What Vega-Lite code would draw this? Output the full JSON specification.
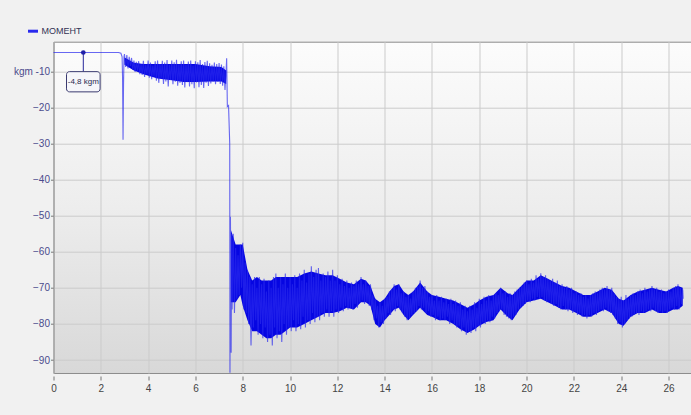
{
  "$schema": "https://vega.github.io/schema/vega-lite/v6.json",
  "width": 637.5,
  "height": 331.3,
  "autosize": {"type": "none"},
  "padding": {"left": 53.5, "top": 41.7, "right": 0, "bottom": 42},
  "background": "#f1f1f1",
  "config": {
    "view": {
      "fill": {"gradient": "linear", "x1": 0, "y1": 0, "x2": 0, "y2": 1, "stops": [{"offset": 0, "color": "#fcfcfc"}, {"offset": 0.5, "color": "#ededed"}, {"offset": 1, "color": "#d8d8d8"}]},
      "stroke": "#8c8c8c",
      "strokeWidth": 1
    },
    "axis": {
      "gridColor": "#cbcbcb",
      "gridOpacity": 1,
      "gridWidth": 1,
      "labelFont": "Liberation Sans, Arial, sans-serif",
      "labelFontSize": 10,
      "labelOverlap": false,
      "tickColor": "#777777",
      "domainColor": "#9a9a9a",
      "title": null
    }
  },
  "datasets": {
    "env": [
      {"seg":"a","t":3.0,"hi":-6.2,"lo":-8.2},{"seg":"a","t":3.4,"hi":-7.6,"lo":-9.8},{"seg":"a","t":3.8,"hi":-8,"lo":-10.8},{"seg":"a","t":4.4,"hi":-8,"lo":-12},
      {"seg":"a","t":5.0,"hi":-8,"lo":-12.5},{"seg":"a","t":5.5,"hi":-8,"lo":-13},{"seg":"a","t":6.0,"hi":-8,"lo":-13},{"seg":"a","t":6.6,"hi":-8.6,"lo":-12.8},
      {"seg":"a","t":7.1,"hi":-8.8,"lo":-12.8},{"seg":"a","t":7.3,"hi":-9.8,"lo":-13.5},
      {"seg":"b","t":7.5,"hi":-54,"lo":-74},{"seg":"b","t":7.7,"hi":-58,"lo":-74},{"seg":"b","t":7.9,"hi":-58,"lo":-72},{"seg":"b","t":8.0,"hi":-58,"lo":-75},
      {"seg":"b","t":8.2,"hi":-65,"lo":-79},{"seg":"b","t":8.4,"hi":-68,"lo":-82},{"seg":"b","t":8.6,"hi":-67,"lo":-82},{"seg":"b","t":8.8,"hi":-68,"lo":-83},
      {"seg":"b","t":9.0,"hi":-68,"lo":-84},{"seg":"b","t":9.2,"hi":-68,"lo":-84},{"seg":"b","t":9.4,"hi":-67,"lo":-83},{"seg":"b","t":9.6,"hi":-67,"lo":-83},
      {"seg":"b","t":9.8,"hi":-67,"lo":-82},{"seg":"b","t":10.0,"hi":-67,"lo":-81},{"seg":"b","t":10.3,"hi":-67,"lo":-81},{"seg":"b","t":10.6,"hi":-66,"lo":-80},
      {"seg":"b","t":10.9,"hi":-65.5,"lo":-79},{"seg":"b","t":11.2,"hi":-66,"lo":-78},{"seg":"b","t":11.5,"hi":-66.5,"lo":-77},{"seg":"b","t":11.8,"hi":-66.5,"lo":-77},
      {"seg":"b","t":12.1,"hi":-67.5,"lo":-76.5},{"seg":"b","t":12.4,"hi":-68.5,"lo":-75.5},{"seg":"b","t":12.7,"hi":-69,"lo":-76},{"seg":"b","t":13.0,"hi":-67.5,"lo":-74},
      {"seg":"b","t":13.2,"hi":-68,"lo":-74},{"seg":"b","t":13.4,"hi":-69.5,"lo":-75},{"seg":"b","t":13.6,"hi":-73,"lo":-80},{"seg":"b","t":13.8,"hi":-74,"lo":-81},
      {"seg":"b","t":14.0,"hi":-73,"lo":-79},{"seg":"b","t":14.2,"hi":-71,"lo":-77.5},{"seg":"b","t":14.4,"hi":-69.5,"lo":-76},{"seg":"b","t":14.6,"hi":-69,"lo":-75.5},
      {"seg":"b","t":14.8,"hi":-71,"lo":-77.5},{"seg":"b","t":15.0,"hi":-72,"lo":-79},{"seg":"b","t":15.2,"hi":-71,"lo":-77.5},{"seg":"b","t":15.5,"hi":-68.5,"lo":-75.5},
      {"seg":"b","t":15.8,"hi":-71,"lo":-77.5},{"seg":"b","t":16.0,"hi":-72,"lo":-78},{"seg":"b","t":16.3,"hi":-72.5,"lo":-79},{"seg":"b","t":16.6,"hi":-73,"lo":-79},
      {"seg":"b","t":16.9,"hi":-73.5,"lo":-80},{"seg":"b","t":17.2,"hi":-74.5,"lo":-81.5},{"seg":"b","t":17.5,"hi":-75.5,"lo":-82.5},{"seg":"b","t":17.8,"hi":-74.5,"lo":-81.5},
      {"seg":"b","t":18.0,"hi":-73.5,"lo":-80.5},{"seg":"b","t":18.3,"hi":-72.5,"lo":-79.5},{"seg":"b","t":18.6,"hi":-72,"lo":-79},{"seg":"b","t":18.9,"hi":-70,"lo":-76},
      {"seg":"b","t":19.2,"hi":-71.5,"lo":-78},{"seg":"b","t":19.4,"hi":-72,"lo":-79},{"seg":"b","t":19.7,"hi":-70,"lo":-76},{"seg":"b","t":20.0,"hi":-68,"lo":-74},
      {"seg":"b","t":20.3,"hi":-68,"lo":-73.5},{"seg":"b","t":20.6,"hi":-66.5,"lo":-73},{"seg":"b","t":20.9,"hi":-67.5,"lo":-74},{"seg":"b","t":21.2,"hi":-68.5,"lo":-75},
      {"seg":"b","t":21.5,"hi":-69.5,"lo":-76},{"seg":"b","t":21.8,"hi":-70,"lo":-76},{"seg":"b","t":22.1,"hi":-71,"lo":-77},{"seg":"b","t":22.4,"hi":-72,"lo":-78},
      {"seg":"b","t":22.7,"hi":-72,"lo":-78},{"seg":"b","t":23.0,"hi":-71,"lo":-77},{"seg":"b","t":23.3,"hi":-70,"lo":-76},{"seg":"b","t":23.6,"hi":-70.5,"lo":-77},
      {"seg":"b","t":23.9,"hi":-73,"lo":-80},{"seg":"b","t":24.1,"hi":-73.5,"lo":-80.5},{"seg":"b","t":24.4,"hi":-72,"lo":-78},{"seg":"b","t":24.7,"hi":-71,"lo":-77},
      {"seg":"b","t":25.0,"hi":-70.5,"lo":-77},{"seg":"b","t":25.3,"hi":-70,"lo":-76},{"seg":"b","t":25.6,"hi":-70.5,"lo":-77},{"seg":"b","t":25.9,"hi":-71,"lo":-77},
      {"seg":"b","t":26.2,"hi":-70,"lo":-76},{"seg":"b","t":26.4,"hi":-69.5,"lo":-76},{"seg":"b","t":26.6,"hi":-70,"lo":-75}
    ],
    "sig": [
      {"t":0,"v":-4.8},{"t":2.75,"v":-4.8},{"t":2.85,"v":-5.0},{"t":2.9,"v":-6},{"t":2.92,"v":-12},{"t":2.94,"v":-29},{"t":2.96,"v":-14},{"t":2.98,"v":-6},
      {"t":3.00,"v":-5.2},{"t":3.05,"v":-8.8},{"t":3.10,"v":-5.5},{"t":3.15,"v":-9.2},{"t":3.20,"v":-6.0},{"t":3.25,"v":-8.5},{"t":3.30,"v":-6.3},{"t":3.35,"v":-9.6},
      {"t":3.40,"v":-7.0},{"t":3.45,"v":-10.2},{"t":3.50,"v":-7.4},{"t":3.55,"v":-9.8},{"t":3.60,"v":-7.2},{"t":3.65,"v":-10.8},{"t":3.70,"v":-8.0},{"t":3.75,"v":-11.0},
      {"t":3.80,"v":-7.1},{"t":3.85,"v":-11.6},{"t":3.90,"v":-8.2},{"t":3.95,"v":-10.9},{"t":4.00,"v":-7.0},{"t":4.05,"v":-11.8},{"t":4.10,"v":-7.6},{"t":4.15,"v":-12.2},
      {"t":4.20,"v":-8.4},{"t":4.25,"v":-11.4},{"t":4.30,"v":-7.2},{"t":4.35,"v":-12.6},{"t":4.40,"v":-7.0},{"t":4.45,"v":-13.2},{"t":4.50,"v":-8.0},{"t":4.55,"v":-12.0},
      {"t":4.60,"v":-7.1},{"t":4.65,"v":-13.5},{"t":4.70,"v":-7.6},{"t":4.75,"v":-12.8},{"t":4.80,"v":-6.9},{"t":4.85,"v":-14.2},{"t":4.90,"v":-8.3},{"t":4.95,"v":-12.4},
      {"t":5.00,"v":-7.0},{"t":5.05,"v":-13.6},{"t":5.10,"v":-7.5},{"t":5.15,"v":-12.9},{"t":5.20,"v":-6.8},{"t":5.25,"v":-14.0},{"t":5.30,"v":-8.1},{"t":5.35,"v":-13.2},
      {"t":5.40,"v":-7.2},{"t":5.45,"v":-13.8},{"t":5.50,"v":-7.0},{"t":5.55,"v":-14.5},{"t":5.60,"v":-8.2},{"t":5.65,"v":-13.0},{"t":5.70,"v":-7.3},{"t":5.75,"v":-14.2},
      {"t":5.80,"v":-7.0},{"t":5.85,"v":-13.6},{"t":5.90,"v":-8.4},{"t":5.95,"v":-14.7},{"t":6.00,"v":-7.2},{"t":6.05,"v":-13.1},{"t":6.10,"v":-7.5},{"t":6.15,"v":-14.4},
      {"t":6.20,"v":-6.9},{"t":6.25,"v":-13.8},{"t":6.30,"v":-8.0},{"t":6.35,"v":-14.6},{"t":6.40,"v":-7.4},{"t":6.45,"v":-13.2},{"t":6.50,"v":-7.1},{"t":6.55,"v":-14.1},
      {"t":6.60,"v":-7.8},{"t":6.65,"v":-13.4},{"t":6.70,"v":-8.2},{"t":6.75,"v":-12.8},{"t":6.80,"v":-7.6},{"t":6.85,"v":-13.6},{"t":6.90,"v":-8.0},{"t":6.95,"v":-12.9},
      {"t":7.00,"v":-7.7},{"t":7.05,"v":-13.5},{"t":7.10,"v":-8.1},{"t":7.15,"v":-14.0},{"t":7.20,"v":-8.6},{"t":7.25,"v":-15.2},{"t":7.30,"v":-9.5},{"t":7.32,"v":-6.4},
      {"t":7.35,"v":-19.8},{"t":7.40,"v":-19.5},{"t":7.45,"v":-30},{"t":7.46,"v":-93.5},{"t":7.48,"v":-50.3},{"t":7.51,"v":-88},{"t":7.53,"v":-55},{"t":7.55,"v":-76},
      {"t":7.60,"v":-55},{"t":7.65,"v":-77},{"t":7.70,"v":-59},{"t":7.75,"v":-73},{"t":7.80,"v":-61},{"t":7.85,"v":-72},{"t":7.90,"v":-58},{"t":7.95,"v":-70},
      {"t":8.00,"v":-57.5},{"t":8.05,"v":-76},{"t":8.10,"v":-63},{"t":8.15,"v":-77},{"t":8.20,"v":-65},{"t":8.25,"v":-80},{"t":8.30,"v":-67},{"t":8.35,"v":-86},
      {"t":8.40,"v":-69},{"t":8.45,"v":-81},{"t":8.50,"v":-67},{"t":8.55,"v":-79},{"t":8.60,"v":-70},{"t":8.65,"v":-83},{"t":8.70,"v":-67},{"t":8.75,"v":-80},
      {"t":8.80,"v":-69},{"t":8.85,"v":-84},{"t":8.90,"v":-67.5},{"t":8.95,"v":-81},{"t":9.00,"v":-71},{"t":9.05,"v":-85},{"t":9.10,"v":-68},{"t":9.15,"v":-83},
      {"t":9.20,"v":-70},{"t":9.25,"v":-86},{"t":9.30,"v":-67},{"t":9.35,"v":-81},{"t":9.40,"v":-66},{"t":9.45,"v":-84},{"t":9.50,"v":-70},{"t":9.55,"v":-82},
      {"t":9.60,"v":-67},{"t":9.65,"v":-85},{"t":9.70,"v":-69},{"t":9.75,"v":-80},{"t":9.80,"v":-66},{"t":9.85,"v":-83},{"t":9.90,"v":-70},{"t":9.95,"v":-81},
      {"t":10.00,"v":-67},{"t":10.05,"v":-82},{"t":10.10,"v":-69},{"t":10.15,"v":-79},{"t":10.20,"v":-66.5},{"t":10.25,"v":-82},{"t":10.30,"v":-70},{"t":10.35,"v":-80},
      {"t":10.40,"v":-66},{"t":10.45,"v":-81.5},{"t":10.50,"v":-68},{"t":10.55,"v":-78},{"t":10.60,"v":-65},{"t":10.65,"v":-81},{"t":10.70,"v":-68.5},{"t":10.75,"v":-79},
      {"t":10.80,"v":-66},{"t":10.85,"v":-80},{"t":10.90,"v":-64},{"t":10.95,"v":-77},{"t":11.00,"v":-67},{"t":11.05,"v":-79.5},{"t":11.10,"v":-65},{"t":11.15,"v":-78},
      {"t":11.20,"v":-64.5},{"t":11.25,"v":-79},{"t":11.30,"v":-68},{"t":11.35,"v":-77},{"t":11.40,"v":-66},{"t":11.45,"v":-78},{"t":11.50,"v":-67},{"t":11.55,"v":-76},
      {"t":11.60,"v":-65.5},{"t":11.65,"v":-78},{"t":11.70,"v":-68},{"t":11.75,"v":-76.5},{"t":11.80,"v":-65},{"t":11.85,"v":-78},{"t":11.90,"v":-68},{"t":11.95,"v":-76},
      {"t":12.00,"v":-66.5},{"t":12.05,"v":-77},{"t":12.10,"v":-69},{"t":12.15,"v":-75.5},{"t":12.20,"v":-67.5},{"t":12.25,"v":-76.5},{"t":12.30,"v":-69.5},{"t":12.35,"v":-75},
      {"t":12.40,"v":-68},{"t":12.45,"v":-76},{"t":12.50,"v":-70},{"t":12.55,"v":-75.5},{"t":12.60,"v":-68.5},{"t":12.65,"v":-76},{"t":12.70,"v":-69.5},{"t":12.75,"v":-74.5},
      {"t":12.80,"v":-68},{"t":12.85,"v":-75.5},{"t":12.90,"v":-69},{"t":12.95,"v":-74},{"t":13.00,"v":-67},{"t":13.05,"v":-73.5},{"t":13.10,"v":-69},{"t":13.15,"v":-74.5},
      {"t":13.20,"v":-68},{"t":13.25,"v":-74},{"t":13.30,"v":-69.5},{"t":13.35,"v":-75},{"t":13.40,"v":-69},{"t":13.45,"v":-76},{"t":13.50,"v":-72},{"t":13.55,"v":-79},
      {"t":13.60,"v":-73},{"t":13.65,"v":-78.5},{"t":13.70,"v":-75},{"t":13.75,"v":-81},{"t":13.80,"v":-74},{"t":13.85,"v":-79.5},{"t":13.90,"v":-75},{"t":13.95,"v":-80},
      {"t":14.00,"v":-73},{"t":14.05,"v":-78.5},{"t":14.10,"v":-72.5},{"t":14.15,"v":-77},{"t":14.20,"v":-71},{"t":14.25,"v":-77.5},{"t":14.30,"v":-70.5},{"t":14.35,"v":-76},
      {"t":14.40,"v":-69},{"t":14.45,"v":-76.5},{"t":14.50,"v":-70.5},{"t":14.55,"v":-75},{"t":14.60,"v":-69},{"t":14.65,"v":-76},{"t":14.70,"v":-71.5},{"t":14.75,"v":-77},
      {"t":14.80,"v":-71},{"t":14.85,"v":-78},{"t":14.90,"v":-72.5},{"t":14.95,"v":-79},{"t":15.00,"v":-72},{"t":15.05,"v":-78.5},{"t":15.10,"v":-73},{"t":15.15,"v":-77.5},
      {"t":15.20,"v":-71},{"t":15.25,"v":-77},{"t":15.30,"v":-70},{"t":15.35,"v":-76.5},{"t":15.40,"v":-69.5},{"t":15.45,"v":-75},{"t":15.50,"v":-68},{"t":15.55,"v":-76},
      {"t":15.60,"v":-70},{"t":15.65,"v":-75.5},{"t":15.70,"v":-69.5},{"t":15.75,"v":-77},{"t":15.80,"v":-71},{"t":15.85,"v":-76.5},{"t":15.90,"v":-72.5},{"t":15.95,"v":-78},
      {"t":16.00,"v":-72},{"t":16.05,"v":-77.5},{"t":16.10,"v":-73.5},{"t":16.15,"v":-79},{"t":16.20,"v":-72},{"t":16.25,"v":-78},{"t":16.30,"v":-73.5},{"t":16.35,"v":-79},
      {"t":16.40,"v":-72.5},{"t":16.45,"v":-78.5},{"t":16.50,"v":-74},{"t":16.55,"v":-79},{"t":16.60,"v":-73},{"t":16.65,"v":-78},{"t":16.70,"v":-74.5},{"t":16.75,"v":-80},
      {"t":16.80,"v":-73},{"t":16.85,"v":-79},{"t":16.90,"v":-74.5},{"t":16.95,"v":-80},{"t":17.00,"v":-73.5},{"t":17.05,"v":-81},{"t":17.10,"v":-75},{"t":17.15,"v":-80.5},
      {"t":17.20,"v":-74},{"t":17.25,"v":-82},{"t":17.30,"v":-76},{"t":17.35,"v":-81},{"t":17.40,"v":-75},{"t":17.45,"v":-83},{"t":17.50,"v":-76.5},{"t":17.55,"v":-82},
      {"t":17.60,"v":-75},{"t":17.65,"v":-82.5},{"t":17.70,"v":-76},{"t":17.75,"v":-81},{"t":17.80,"v":-74},{"t":17.85,"v":-82},{"t":17.90,"v":-75.5},{"t":17.95,"v":-80.5},
      {"t":18.00,"v":-73},{"t":18.05,"v":-81},{"t":18.10,"v":-74.5},{"t":18.15,"v":-79.5},{"t":18.20,"v":-72.5},{"t":18.25,"v":-80},{"t":18.30,"v":-73.5},{"t":18.35,"v":-79},
      {"t":18.40,"v":-72},{"t":18.45,"v":-79.5},{"t":18.50,"v":-73.5},{"t":18.55,"v":-78},{"t":18.60,"v":-72},{"t":18.65,"v":-78.5},{"t":18.70,"v":-71.5},{"t":18.75,"v":-77},
      {"t":18.80,"v":-72},{"t":18.85,"v":-76.5},{"t":18.90,"v":-70},{"t":18.95,"v":-76},{"t":19.00,"v":-71.5},{"t":19.05,"v":-77.5},{"t":19.10,"v":-71},{"t":19.15,"v":-78},
      {"t":19.20,"v":-72.5},{"t":19.25,"v":-78.5},{"t":19.30,"v":-71.5},{"t":19.35,"v":-79},{"t":19.40,"v":-72},{"t":19.45,"v":-78},{"t":19.50,"v":-71},{"t":19.55,"v":-77.5},
      {"t":19.60,"v":-70.5},{"t":19.65,"v":-76},{"t":19.70,"v":-70},{"t":19.75,"v":-75.5},{"t":19.80,"v":-69.5},{"t":19.85,"v":-75},{"t":19.90,"v":-68.5},{"t":19.95,"v":-74.5},
      {"t":20.00,"v":-68},{"t":20.05,"v":-73.5},{"t":20.10,"v":-69},{"t":20.15,"v":-74},{"t":20.20,"v":-67.5},{"t":20.25,"v":-73},{"t":20.30,"v":-68.5},{"t":20.35,"v":-73.5},
      {"t":20.40,"v":-66.5},{"t":20.45,"v":-72.5},{"t":20.50,"v":-67.5},{"t":20.55,"v":-73},{"t":20.60,"v":-66},{"t":20.65,"v":-72.5},{"t":20.70,"v":-67},{"t":20.75,"v":-73.5},
      {"t":20.80,"v":-66.5},{"t":20.85,"v":-74},{"t":20.90,"v":-67.5},{"t":20.95,"v":-73.5},{"t":21.00,"v":-68},{"t":21.05,"v":-74.5},{"t":21.10,"v":-67.5},{"t":21.15,"v":-75},
      {"t":21.20,"v":-68.5},{"t":21.25,"v":-74.5},{"t":21.30,"v":-68},{"t":21.35,"v":-75.5},{"t":21.40,"v":-69.5},{"t":21.45,"v":-76},{"t":21.50,"v":-69},{"t":21.55,"v":-75},
      {"t":21.60,"v":-70},{"t":21.65,"v":-76},{"t":21.70,"v":-69.5},{"t":21.75,"v":-76.5},{"t":21.80,"v":-70.5},{"t":21.85,"v":-76},{"t":21.90,"v":-70},{"t":21.95,"v":-77},
      {"t":22.00,"v":-71.5},{"t":22.05,"v":-76.5},{"t":22.10,"v":-71},{"t":22.15,"v":-77.5},{"t":22.20,"v":-72},{"t":22.25,"v":-77},{"t":22.30,"v":-71.5},{"t":22.35,"v":-78},
      {"t":22.40,"v":-72.5},{"t":22.45,"v":-77.5},{"t":22.50,"v":-72},{"t":22.55,"v":-78.5},{"t":22.60,"v":-73},{"t":22.65,"v":-77.5},{"t":22.70,"v":-72},{"t":22.75,"v":-78},
      {"t":22.80,"v":-71.5},{"t":22.85,"v":-77},{"t":22.90,"v":-71},{"t":22.95,"v":-77.5},{"t":23.00,"v":-71.5},{"t":23.05,"v":-76.5},{"t":23.10,"v":-70.5},{"t":23.15,"v":-76},
      {"t":23.20,"v":-70},{"t":23.25,"v":-76.5},{"t":23.30,"v":-70.5},{"t":23.35,"v":-75.5},{"t":23.40,"v":-69.5},{"t":23.45,"v":-76.5},{"t":23.50,"v":-70.5},{"t":23.55,"v":-77},
      {"t":23.60,"v":-70},{"t":23.65,"v":-77.5},{"t":23.70,"v":-71.5},{"t":23.75,"v":-78.5},{"t":23.80,"v":-72.5},{"t":23.85,"v":-80},{"t":23.90,"v":-73},{"t":23.95,"v":-79.5},
      {"t":24.00,"v":-72.5},{"t":24.05,"v":-81},{"t":24.10,"v":-73.5},{"t":24.15,"v":-80},{"t":24.20,"v":-72},{"t":24.25,"v":-79},{"t":24.30,"v":-73},{"t":24.35,"v":-78.5},
      {"t":24.40,"v":-72},{"t":24.45,"v":-78},{"t":24.50,"v":-71.5},{"t":24.55,"v":-77.5},{"t":24.60,"v":-72},{"t":24.65,"v":-77},{"t":24.70,"v":-71},{"t":24.75,"v":-77.5},
      {"t":24.80,"v":-70.5},{"t":24.85,"v":-76.5},{"t":24.90,"v":-71.5},{"t":24.95,"v":-77},{"t":25.00,"v":-70},{"t":25.05,"v":-76.5},{"t":25.10,"v":-71},{"t":25.15,"v":-76},
      {"t":25.20,"v":-70.5},{"t":25.25,"v":-76.5},{"t":25.30,"v":-69.5},{"t":25.35,"v":-75.5},{"t":25.40,"v":-70.5},{"t":25.45,"v":-76.5},{"t":25.50,"v":-70},{"t":25.55,"v":-77},
      {"t":25.60,"v":-71},{"t":25.65,"v":-76.5},{"t":25.70,"v":-70.5},{"t":25.75,"v":-77},{"t":25.80,"v":-71.5},{"t":25.85,"v":-76.5},{"t":25.90,"v":-71},{"t":25.95,"v":-77},
      {"t":26.00,"v":-70.5},{"t":26.05,"v":-76},{"t":26.10,"v":-71},{"t":26.15,"v":-75.5},{"t":26.20,"v":-70},{"t":26.25,"v":-76},{"t":26.30,"v":-69.5},{"t":26.35,"v":-75},
      {"t":26.40,"v":-69},{"t":26.45,"v":-76},{"t":26.50,"v":-70},{"t":26.55,"v":-74.5},{"t":26.60,"v":-70.5},{"t":26.62,"v":-73}
    ]
  },
  "layer": [
    {
      "data": {"name": "env"},
      "mark": {"type": "area", "color": "#0606e2", "opacity": 1},
      "encoding": {
        "x": {"field": "t", "type": "quantitative", "scale": {"domain": [0, 26.95], "nice": false, "zero": false},
              "axis": {"values": [0,1,2,3,4,5,6,7,8,9,10,11,12,13,14,15,16,17,18,19,20,21,22,23,24,25,26], "domain": false, "offset": 3, "tickSize": 4, "labelPadding": 3, "labelColor": "#444444", "labelFlush": false, "title": null}},
        "y": {"field": "hi", "type": "quantitative", "scale": {"domain": [-93.6, -1.8], "nice": false, "zero": false},
              "axis": {"values": [-10,-20,-30,-40,-50,-60,-70,-80,-90], "tickSize": 3, "labelPadding": 1, "labelColor": "#4b4b8c", "labelExpr": "datum.value == -10 ? 'kgm -10' : datum.label", "title": null}},
        "y2": {"field": "lo"},
        "detail": {"field": "seg"}
      }
    },
    {
      "data": {"name": "sig"},
      "mark": {"type": "line", "strokeWidth": 1.1, "opacity": 0.7, "interpolate": "linear"},
      "encoding": {
        "x": {"field": "t", "type": "quantitative", "title": null},
        "y": {"field": "v", "type": "quantitative", "title": null},
        "color": {"datum": "МОМЕНТ", "type": "nominal", "scale": {"range": ["#2a2aee"]},
                  "legend": {"orient": "none", "legendX": -27, "legendY": -17, "title": null, "padding": 0, "symbolType": "stroke", "symbolStrokeWidth": 3, "symbolSize": 100, "symbolStrokeColor": "#1515b0", "symbolOpacity": 1, "labelFont": "Liberation Sans, Arial, sans-serif", "labelFontSize": 9, "labelColor": "#333355", "labelOffset": 2}}
      }
    },
    {
      "data": {"values": [{"t": 1.26, "v": -4.8, "v2": -10.1}]},
      "mark": {"type": "rule", "color": "#27279a", "strokeWidth": 1},
      "encoding": {"x": {"field": "t", "type": "quantitative"}, "y": {"field": "v", "type": "quantitative"}, "y2": {"field": "v2"}}
    },
    {
      "data": {"values": [{"t": 0.55, "t2": 1.97, "v": -10.1, "v2": -15.7}]},
      "mark": {"type": "rect", "fill": "#f6f6fa", "stroke": "#3a3a70", "strokeWidth": 1, "cornerRadius": 3},
      "encoding": {"x": {"field": "t", "type": "quantitative"}, "x2": {"field": "t2"}, "y": {"field": "v", "type": "quantitative"}, "y2": {"field": "v2"}}
    },
    {
      "data": {"values": [{"t": 1.26, "v": -12.9, "label": "-4,8 kgm"}]},
      "mark": {"type": "text", "font": "Liberation Sans, Arial, sans-serif", "fontSize": 8, "color": "#2a2a50", "align": "center", "baseline": "middle"},
      "encoding": {"x": {"field": "t", "type": "quantitative"}, "y": {"field": "v", "type": "quantitative"}, "text": {"field": "label"}}
    },
    {
      "data": {"values": [{"t": 1.26, "v": -4.8}]},
      "mark": {"type": "point", "filled": true, "size": 22, "color": "#1f1fa8", "opacity": 1},
      "encoding": {"x": {"field": "t", "type": "quantitative"}, "y": {"field": "v", "type": "quantitative"}}
    }
  ]
}
